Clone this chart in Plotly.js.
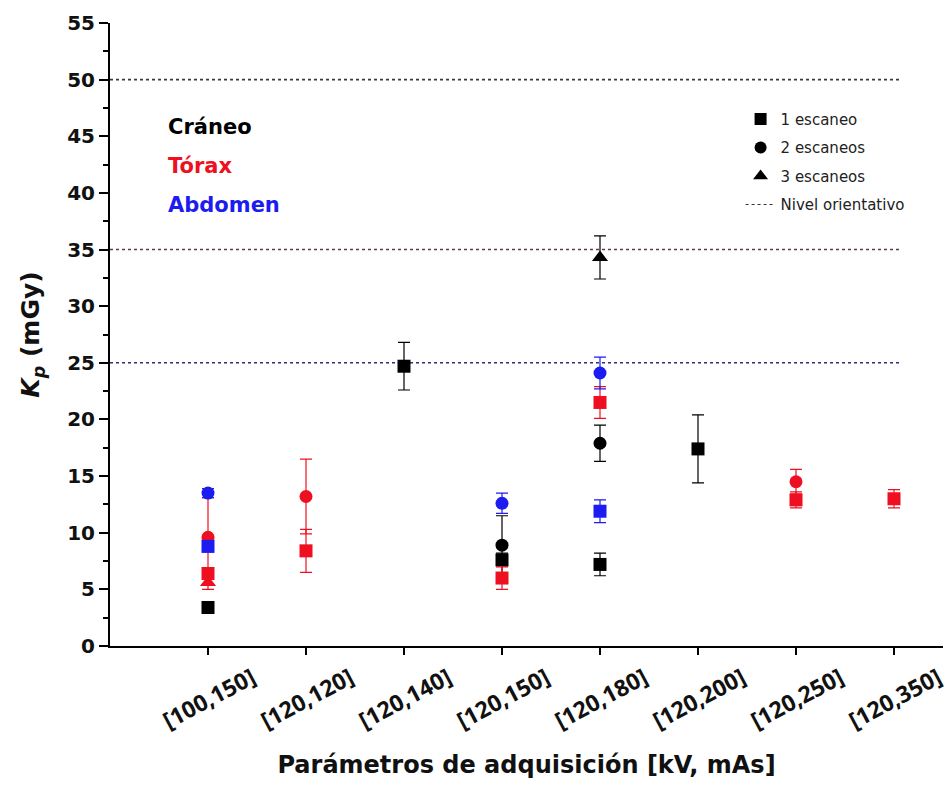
<!DOCTYPE html>
<html>
<head>
<meta charset="utf-8">
<script src="https://cdn.plot.ly/plotly-3.0.1.min.js"></script>
<style>
html,body{margin:0;padding:0;background:#fff;}
#chart{width:951px;height:785px;}
</style>
</head>
<body>
<div id="chart"></div>
<script>
// Categories (x axis): [kV, mAs]
const categorias = ['[100,150]','[120,120]','[120,140]','[120,150]','[120,180]','[120,200]','[120,250]','[120,350]'];

// Cráneo
const craneo1     = [3.4, null, 24.7, 7.6, 7.2, 17.4, null, null];
const craneo1Err  = [0.3, null, 2.1, 0.6, 1.0, 3.0, null, null];
const craneo2     = [null, null, null, 8.9, 17.9, null, null, null];
const craneo2Err  = [null, null, null, 2.6, 1.6, null, null, null];
const craneo3     = [null, null, null, null, 34.3, null, null, null];
const craneo3Err  = [null, null, null, null, 1.9, null, null, null];

// Tórax
const torax1      = [6.4, 8.4, null, 6.0, 21.5, null, 12.9, 13.0];
const torax1Err   = [0.5, 1.9, null, 1.0, 1.4, null, 0.7, 0.8];
const torax2      = [9.6, 13.2, null, null, null, null, 14.5, null];
const torax2Err   = [3.5, 3.3, null, null, null, null, 1.1, null];
const torax3      = [5.6, null, null, null, null, null, null, null];
const torax3Err   = [0.6, null, null, null, null, null, null, null];

// Abdomen
const abdomen1    = [8.8, null, null, null, 11.9, null, null, null];
const abdomen1Err = [0.5, null, null, null, 1.0, null, null, null];
const abdomen2    = [13.5, null, null, 12.6, 24.1, null, null, null];
const abdomen2Err = [0.4, null, null, 0.9, 1.4, null, null, null];

// Reference levels (mGy)
const nivelesOrientativos = [50, 35, 25];
const nivelesColores = ['#3a3a3a', '#5a3f47', '#2d2f7a'];

const yTicks = [0,5,10,15,20,25,30,35,40,45,50,55];

const NEGRO = '#000000', ROJO = '#ee1020', AZUL = '#1c1cf0';
const SIMB = {1:'square', 2:'circle', 3:'triangle-up'};

function serie(y, err, color, n) {
  return {
    type: 'scatter', mode: 'markers', x: categorias, y: y,
    showlegend: false, hoverinfo: 'x+y',
    marker: {symbol: SIMB[n], size: n === 3 ? 14 : 13, color: color,
             line: {width: 0}},
    error_y: {type: 'data', array: err, visible: true, color: color,
              thickness: 1.2, width: 6}
  };
}

const data = [
  serie(craneo1, craneo1Err, NEGRO, 1),
  serie(craneo2, craneo2Err, NEGRO, 2),
  serie(craneo3, craneo3Err, NEGRO, 3),
  serie(torax1, torax1Err, ROJO, 1),
  serie(torax2, torax2Err, ROJO, 2),
  serie(torax3, torax3Err, ROJO, 3),
  serie(abdomen1, abdomen1Err, AZUL, 1),
  serie(abdomen2, abdomen2Err, AZUL, 2),
  // legend-only entries
  {type:'scatter', mode:'markers', x:[null], y:[null], name:'1 escaneo', legendgroup:'g1',
   marker:{symbol:'square', size:12, color:NEGRO}},
  {type:'scatter', mode:'markers', x:[null], y:[null], name:'2 escaneos', legendgroup:'g2',
   marker:{symbol:'circle', size:12, color:NEGRO}},
  {type:'scatter', mode:'markers', x:[null], y:[null], name:'3 escaneos', legendgroup:'g3',
   marker:{symbol:'triangle-up', size:13, color:NEGRO}},
  {type:'scatter', mode:'lines', x:[null], y:[null], name:'Nivel orientativo', legendgroup:'g4',
   line:{dash:'dot', width:1.2, color:'#333'}}
];

const shapes = nivelesOrientativos.map((v, i) => ({
  type:'line', xref:'paper', yref:'y', x0:0, x1:0.949, y0:v, y1:v,
  layer:'below', line:{dash:'dot', width:1.6, color:nivelesColores[i]}
}));

const annotations = [
  {text:'<b>Cráneo</b>', color:NEGRO, y:0.833},
  {text:'<b>Tórax</b>', color:ROJO, y:0.771},
  {text:'<b>Abdomen</b>', color:AZUL, y:0.708}
].map(a => ({
  xref:'paper', yref:'paper', x:0.0675, y:a.y, xanchor:'left', yanchor:'middle',
  text:a.text, showarrow:false,
  font:{family:'DejaVu Sans, sans-serif', size:21, color:a.color}
}));

const layout = {
  width: 951, height: 785,
  margin: {l:110, r:8, t:23, b:139},
  paper_bgcolor:'#ffffff', plot_bgcolor:'#ffffff',
  showlegend: true,
  legend: {x:0.757, y:0.872, xanchor:'left', yanchor:'top',
           bgcolor:'rgba(0,0,0,0)', borderwidth:0, tracegroupgap:6,
           traceorder:'grouped', itemwidth:30,
           font:{family:'DejaVu Sans, sans-serif', size:15, color:'#222'}},
  xaxis: {
    type:'category', range:[-1, 7.5],
    showline:true, linecolor:'#000', linewidth:2, mirror:false,
    ticks:'outside', ticklen:7, tickwidth:2, tickcolor:'#000',
    showgrid:false, zeroline:false, tickangle:-28,
    ticklabelshift:44, ticklabelstandoff:1,
    tickfont:{family:'Open Sans, sans-serif', size:23, color:'#111', weight:'bold'},
    title:{text:'<b>Parámetros de adquisición [kV, mAs]</b>', standoff:21,
           font:{family:'DejaVu Sans, sans-serif', size:24, color:'#111'}}
  },
  yaxis: {
    range:[0, 55], tickvals:yTicks, ticktext:yTicks.map(String),
    showline:true, linecolor:'#000', linewidth:2,
    ticks:'outside', ticklen:9, tickwidth:2, tickcolor:'#000',
    minor:{tickvals:yTicks.slice(0,-1).map(v => v + 2.5), ticklen:5, tickwidth:2, tickcolor:'#000', ticks:'outside'},
    showgrid:false, zeroline:false,
    tickfont:{family:'DejaVu Sans, sans-serif', size:20, color:'#111', weight:'bold'},
    title:{text:'<b><i>K</i><sub><i>p</i></sub> (mGy)</b>', standoff:20,
           font:{family:'DejaVu Sans, sans-serif', size:25, color:'#111'}}
  },
  shapes: shapes,
  annotations: annotations
};

Plotly.newPlot('chart', data, layout, {displayModeBar:false, staticPlot:true});
</script>
</body>
</html>
